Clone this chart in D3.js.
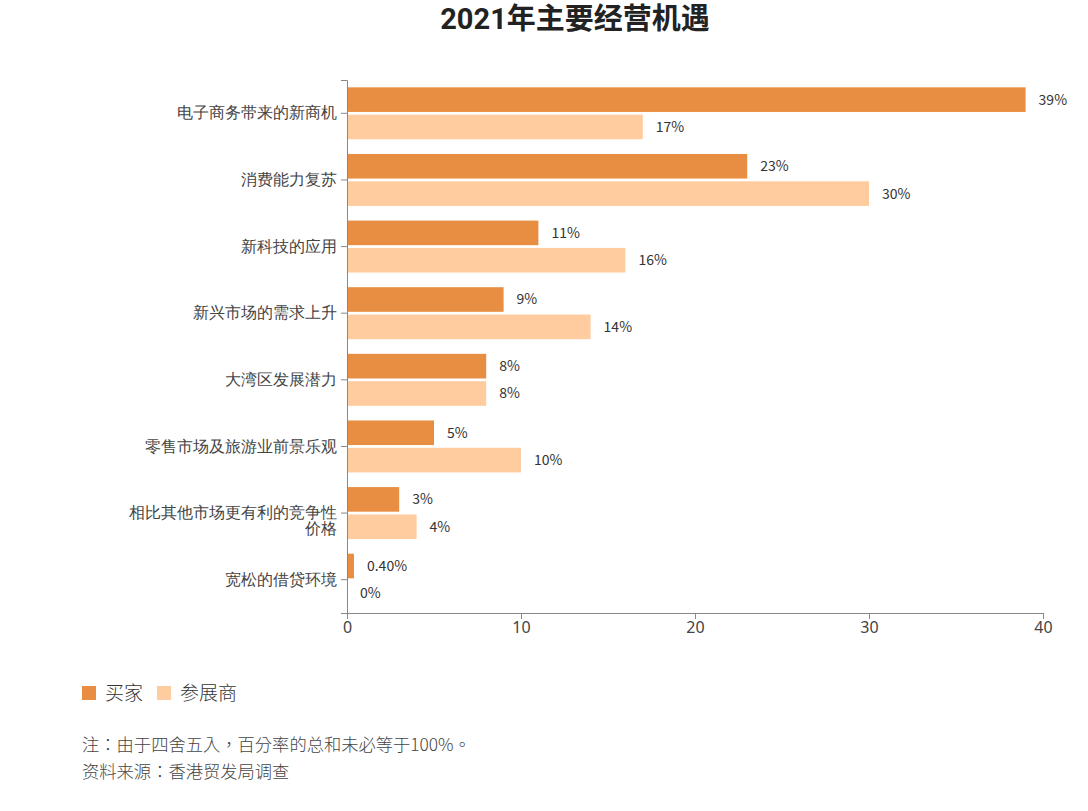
<!DOCTYPE html>
<html>
<head>
<meta charset="utf-8">
<script src="https://cdn.jsdelivr.net/npm/d3@7"></script>
<style>
  body { margin: 0; background: #fff; font-family: "Noto Sans CJK SC", "Noto Sans", sans-serif; }
  svg text { fill: #333; }
</style>
</head>
<body>
<svg width="1088" height="811"></svg>
<script>
const categories = [
  "电子商务带来的新商机",
  "消费能力复苏",
  "新科技的应用",
  "新兴市场的需求上升",
  "大湾区发展潜力",
  "零售市场及旅游业前景乐观",
  "相比其他市场更有利的竞争性价格",
  "宽松的借贷环境"
];
const buyers = [39, 23, 11, 9, 8, 5, 3, 0.4];
const exhibitors = [17, 30, 16, 14, 8, 10, 4, 0];
const seriesNames = ["买家", "参展商"];
const colors = ["#E88E42", "#FFCC9F"];
const ticks = [0, 10, 20, 30, 40];

const svg = d3.select("svg");
const margin = { left: 347, right: 45, top: 80, bottom: 198 };
const W = 1088, H = 811;

const x = d3.scaleLinear().domain([0, 40]).range([margin.left, W - margin.right]);
const y = d3.scaleBand().domain(categories).range([margin.top, H - margin.bottom]).paddingInner(0.22).paddingOuter(0.11);
const ySub = d3.scaleBand().domain([0, 1]).range([0, y.bandwidth()]).paddingInner(0.1);

// title
svg.append("text")
  .attr("x", 575).attr("y", 29)
  .attr("text-anchor", "middle")
  .style("font-family", "Roboto, 'Noto Sans CJK SC', sans-serif")
  .style("font-size", "29px").style("font-weight", "bold")
  .style("fill", "#222")
  .text("2021年主要经营机遇");

// bars
const rows = categories.map((c, i) => ({ c, vals: [buyers[i], exhibitors[i]] }));
const g = svg.append("g");
rows.forEach(r => {
  r.vals.forEach((v, k) => {
    const y0 = y(r.c) + ySub(k);
    g.append("rect")
      .attr("x", x(0)).attr("y", y0)
      .attr("width", x(v) - x(0)).attr("height", ySub.bandwidth())
      .attr("fill", colors[k]);
    g.append("text")
      .attr("x", x(v) + 13).attr("y", y0 + ySub.bandwidth() / 2)
      .attr("dy", "0.35em")
      .style("font-size", "14px")
      .text(v === 0.4 ? "0.40%" : v + "%");
  });
});

// x axis
const xAxis = svg.append("g")
  .attr("transform", `translate(0,${H - margin.bottom})`)
  .call(d3.axisBottom(x).tickValues(ticks).tickSize(6).tickPadding(3));
xAxis.selectAll("text").style("font-size", "16px").style("fill", "#444")
  .style("font-family", "'Noto Sans', sans-serif");

// y axis
const yAxis = svg.append("g")
  .attr("transform", `translate(${margin.left},0)`)
  .call(d3.axisLeft(y).tickSize(6).tickPadding(4));
yAxis.selectAll("text").style("font-size", "16px").style("fill", "#444").style("font-weight", 300)
  .each(function (d) {
    if (d.length > 12) {
      const t = d3.select(this);
      t.text(null);
      t.append("tspan").attr("x", -10).text(d.slice(0, 13));
      t.append("tspan").attr("x", -10).attr("dy", "1em").text(d.slice(13));
    }
  });
svg.selectAll(".domain, .tick line").attr("stroke", "#888");

// legend
const leg = svg.append("g").attr("transform", "translate(82,686)");
let lx = 0;
seriesNames.forEach((n, k) => {
  leg.append("rect").attr("x", lx).attr("y", 0).attr("width", 14).attr("height", 14).attr("fill", colors[k]);
  leg.append("text").attr("x", lx + 23).attr("y", 7).attr("dy", "0.35em")
    .style("font-size", "19px").style("font-weight", 300).text(n);
  lx += 75;
});

// notes
const notes = ["注：由于四舍五入，百分率的总和未必等于100%。", "资料来源：香港贸发局调查"];
notes.forEach((n, i) => {
  svg.append("text").attr("x", 82).attr("y", 751 + i * 27)
    .style("font-family", "'Noto Sans CJK TC', sans-serif")
    .style("font-size", "17.3px").style("fill", "#444").style("font-weight", 300).text(n);
});
</script>
</body>
</html>
